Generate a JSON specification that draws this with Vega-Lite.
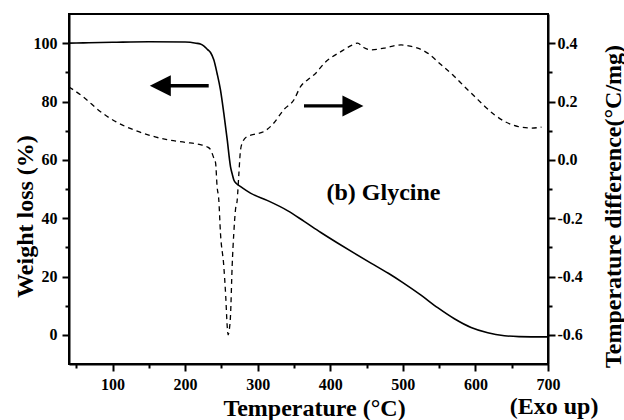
{
  "$schema": "https://vega.github.io/schema/vega-lite/v6.json",
  "width": 479,
  "height": 350,
  "autosize": "none",
  "padding": {"left": 69, "top": 14, "right": 76, "bottom": 56},
  "background": "white",
  "config": {
    "view": {"stroke": "black", "strokeWidth": 2},
    "font": "Liberation Serif",
    "axis": {
      "grid": false,
      "domainColor": "black",
      "domainWidth": 2,
      "tickColor": "black",
      "tickWidth": 2,
      "labelFont": "Liberation Serif",
      "labelFontSize": 16,
      "labelFontWeight": "bold",
      "labelColor": "black",
      "labelOverlap": false,
      "labelFlush": false,
      "titleFont": "Liberation Serif",
      "titleFontSize": 24,
      "titleFontWeight": "bold",
      "titleColor": "black"
    }
  },
  "encoding": {
    "x": {
      "field": "x",
      "type": "quantitative",
      "scale": {"domain": [40, 700], "nice": false, "zero": false},
      "axis": {
        "values": [50, 100, 150, 200, 250, 300, 350, 400, 450, 500, 550, 600, 650, 700],
        "labelExpr": "datum.value % 100 === 0 ? datum.label : ''",
        "tickSize": {"condition": {"test": "datum.value % 100 === 0", "value": 7}, "value": 4},
        "labelPadding": 5,
        "title": "Temperature (°C)",
        "titleX": 245,
        "titleY": 51,
        "titleBaseline": "alphabetic"
      }
    }
  },
  "layer": [
    {
      "encoding": {
        "y": {
          "field": "y",
          "type": "quantitative",
          "scale": {"domain": [-10, 110], "nice": false, "zero": false},
          "axis": {
            "orient": "left",
            "values": [0, 10, 20, 30, 40, 50, 60, 70, 80, 90, 100],
            "labelExpr": "datum.value % 20 === 0 ? datum.label : ''",
            "tickSize": {"condition": {"test": "datum.value % 20 === 0", "value": 7}, "value": 4},
            "labelPadding": 5,
            "title": "Weight loss (%)",
            "titleX": -44,
            "titleY": 202,
            "titleAngle": 270,
            "titleBaseline": "middle"
          }
        }
      },
      "layer": [
        {
          "data": {"values": [
            {"x": 40, "y": 100.0}, {"x": 60, "y": 100.1}, {"x": 100, "y": 100.3}, {"x": 150, "y": 100.5},
            {"x": 200, "y": 100.4}, {"x": 215, "y": 100.0}, {"x": 221, "y": 99.7}, {"x": 226, "y": 99.0},
            {"x": 231, "y": 97.8}, {"x": 235, "y": 96.8}, {"x": 239.5, "y": 94.3}, {"x": 244, "y": 89.7},
            {"x": 248.7, "y": 84}, {"x": 253.3, "y": 76}, {"x": 258, "y": 66.9}, {"x": 262.5, "y": 57.7},
            {"x": 265, "y": 55}, {"x": 267, "y": 53.2}, {"x": 271, "y": 51.8}, {"x": 276, "y": 50.9},
            {"x": 290, "y": 48.6}, {"x": 313, "y": 46.1}, {"x": 341, "y": 42.6}, {"x": 364, "y": 38.9},
            {"x": 387, "y": 35.1}, {"x": 410, "y": 31.5}, {"x": 433, "y": 28.0}, {"x": 456, "y": 24.6},
            {"x": 480, "y": 21.1}, {"x": 500, "y": 17.9}, {"x": 525, "y": 13.6}, {"x": 548, "y": 9.3},
            {"x": 571, "y": 5.5}, {"x": 594, "y": 2.5}, {"x": 617, "y": 0.7},
            {"x": 640, "y": -0.3}, {"x": 660, "y": -0.6}, {"x": 700, "y": -0.7}
          ]},
          "mark": {"type": "line", "color": "black", "strokeWidth": 1.6, "interpolate": "monotone"}
        },
        {
          "data": {"values": [
            {"x": 165.8, "x2": 232.5, "y": 85.4},
            {"x": 363.8, "x2": 431.2, "y": 78.5}
          ]},
          "mark": {"type": "rule", "color": "black", "strokeWidth": 3.3},
          "encoding": {"x2": {"field": "x2"}}
        },
        {
          "data": {"values": [{"x": 165.8, "y": 85.4}]},
          "mark": {"type": "point", "shape": "M1,-1L-1,0L1,1Z", "filled": true, "size": 441, "color": "black", "opacity": 1}
        },
        {
          "data": {"values": [{"x": 431.2, "y": 78.5}]},
          "mark": {"type": "point", "shape": "M-1,-1L1,0L-1,1Z", "filled": true, "size": 441, "color": "black", "opacity": 1}
        },
        {
          "data": {"values": [
            {"x": 473.3, "y": 48.7, "label": "(b) Glycine"},
            {"x": 708.3, "y": -24.8, "label": "(Exo up)"}
          ]},
          "mark": {"type": "text", "font": "Liberation Serif", "fontSize": 24, "fontWeight": "bold", "color": "black", "align": "center", "baseline": "middle"},
          "encoding": {"text": {"field": "label"}}
        }
      ]
    },
    {
      "data": {"values": [
        {"x": 40, "d": 0.25}, {"x": 60, "d": 0.215}, {"x": 83, "d": 0.166}, {"x": 105, "d": 0.13},
        {"x": 129, "d": 0.103}, {"x": 150, "d": 0.085}, {"x": 175, "d": 0.069}, {"x": 200, "d": 0.06},
        {"x": 221, "d": 0.052}, {"x": 230, "d": 0.045}, {"x": 235, "d": 0.035}, {"x": 239, "d": 0.01},
        {"x": 242, "d": -0.011}, {"x": 244, "d": -0.09}, {"x": 246.4, "d": -0.137}, {"x": 248.7, "d": -0.251},
        {"x": 253.3, "d": -0.365}, {"x": 256, "d": -0.47}, {"x": 258, "d": -0.571}, {"x": 259.3, "d": -0.6},
        {"x": 261, "d": -0.58}, {"x": 262.5, "d": -0.536}, {"x": 264.8, "d": -0.365}, {"x": 267.1, "d": -0.25},
        {"x": 269.4, "d": -0.171}, {"x": 271.8, "d": -0.137}, {"x": 274, "d": -0.05}, {"x": 276.4, "d": 0.035},
        {"x": 280, "d": 0.065}, {"x": 285.6, "d": 0.08}, {"x": 300, "d": 0.09}, {"x": 308.6, "d": 0.097},
        {"x": 320, "d": 0.12}, {"x": 336, "d": 0.172}, {"x": 350, "d": 0.206}, {"x": 359, "d": 0.251},
        {"x": 368.6, "d": 0.274}, {"x": 380, "d": 0.297}, {"x": 391.6, "d": 0.331}, {"x": 414.6, "d": 0.371},
        {"x": 430, "d": 0.393}, {"x": 437.6, "d": 0.4}, {"x": 446, "d": 0.385}, {"x": 456, "d": 0.377},
        {"x": 474, "d": 0.383}, {"x": 497.5, "d": 0.394}, {"x": 510, "d": 0.39}, {"x": 520.5, "d": 0.383},
        {"x": 534, "d": 0.366}, {"x": 552.8, "d": 0.326}, {"x": 571, "d": 0.286}, {"x": 585, "d": 0.251},
        {"x": 599, "d": 0.217}, {"x": 613, "d": 0.183}, {"x": 626.5, "d": 0.154}, {"x": 640, "d": 0.132},
        {"x": 659, "d": 0.114}, {"x": 677, "d": 0.109}, {"x": 691, "d": 0.112}
      ]},
      "mark": {"type": "line", "color": "black", "strokeWidth": 1.3, "strokeDash": [5, 4], "interpolate": "monotone"},
      "encoding": {
        "y": {
          "field": "d",
          "type": "quantitative",
          "scale": {"domain": [-0.7, 0.5], "nice": false, "zero": false},
          "axis": {
            "orient": "right",
            "values": [-0.6, -0.5, -0.4, -0.3, -0.2, -0.1, 0, 0.1, 0.2, 0.3, 0.4],
            "labelExpr": "abs(round(datum.value * 10)) % 2 === 0 ? replace(format(datum.value, '.1f'), '\u2212', '-') : ''",
            "tickSize": {"condition": {"test": "abs(round(datum.value * 10)) % 2 === 0", "value": 7}, "value": 4},
            "labelPadding": 2,
            "title": "Temperature difference(°C/mg)",
            "titleX": 65,
            "titleY": 192,
            "titleAngle": 270,
            "titleBaseline": "middle"
          }
        }
      }
    }
  ],
  "resolve": {"scale": {"y": "independent"}}
}
